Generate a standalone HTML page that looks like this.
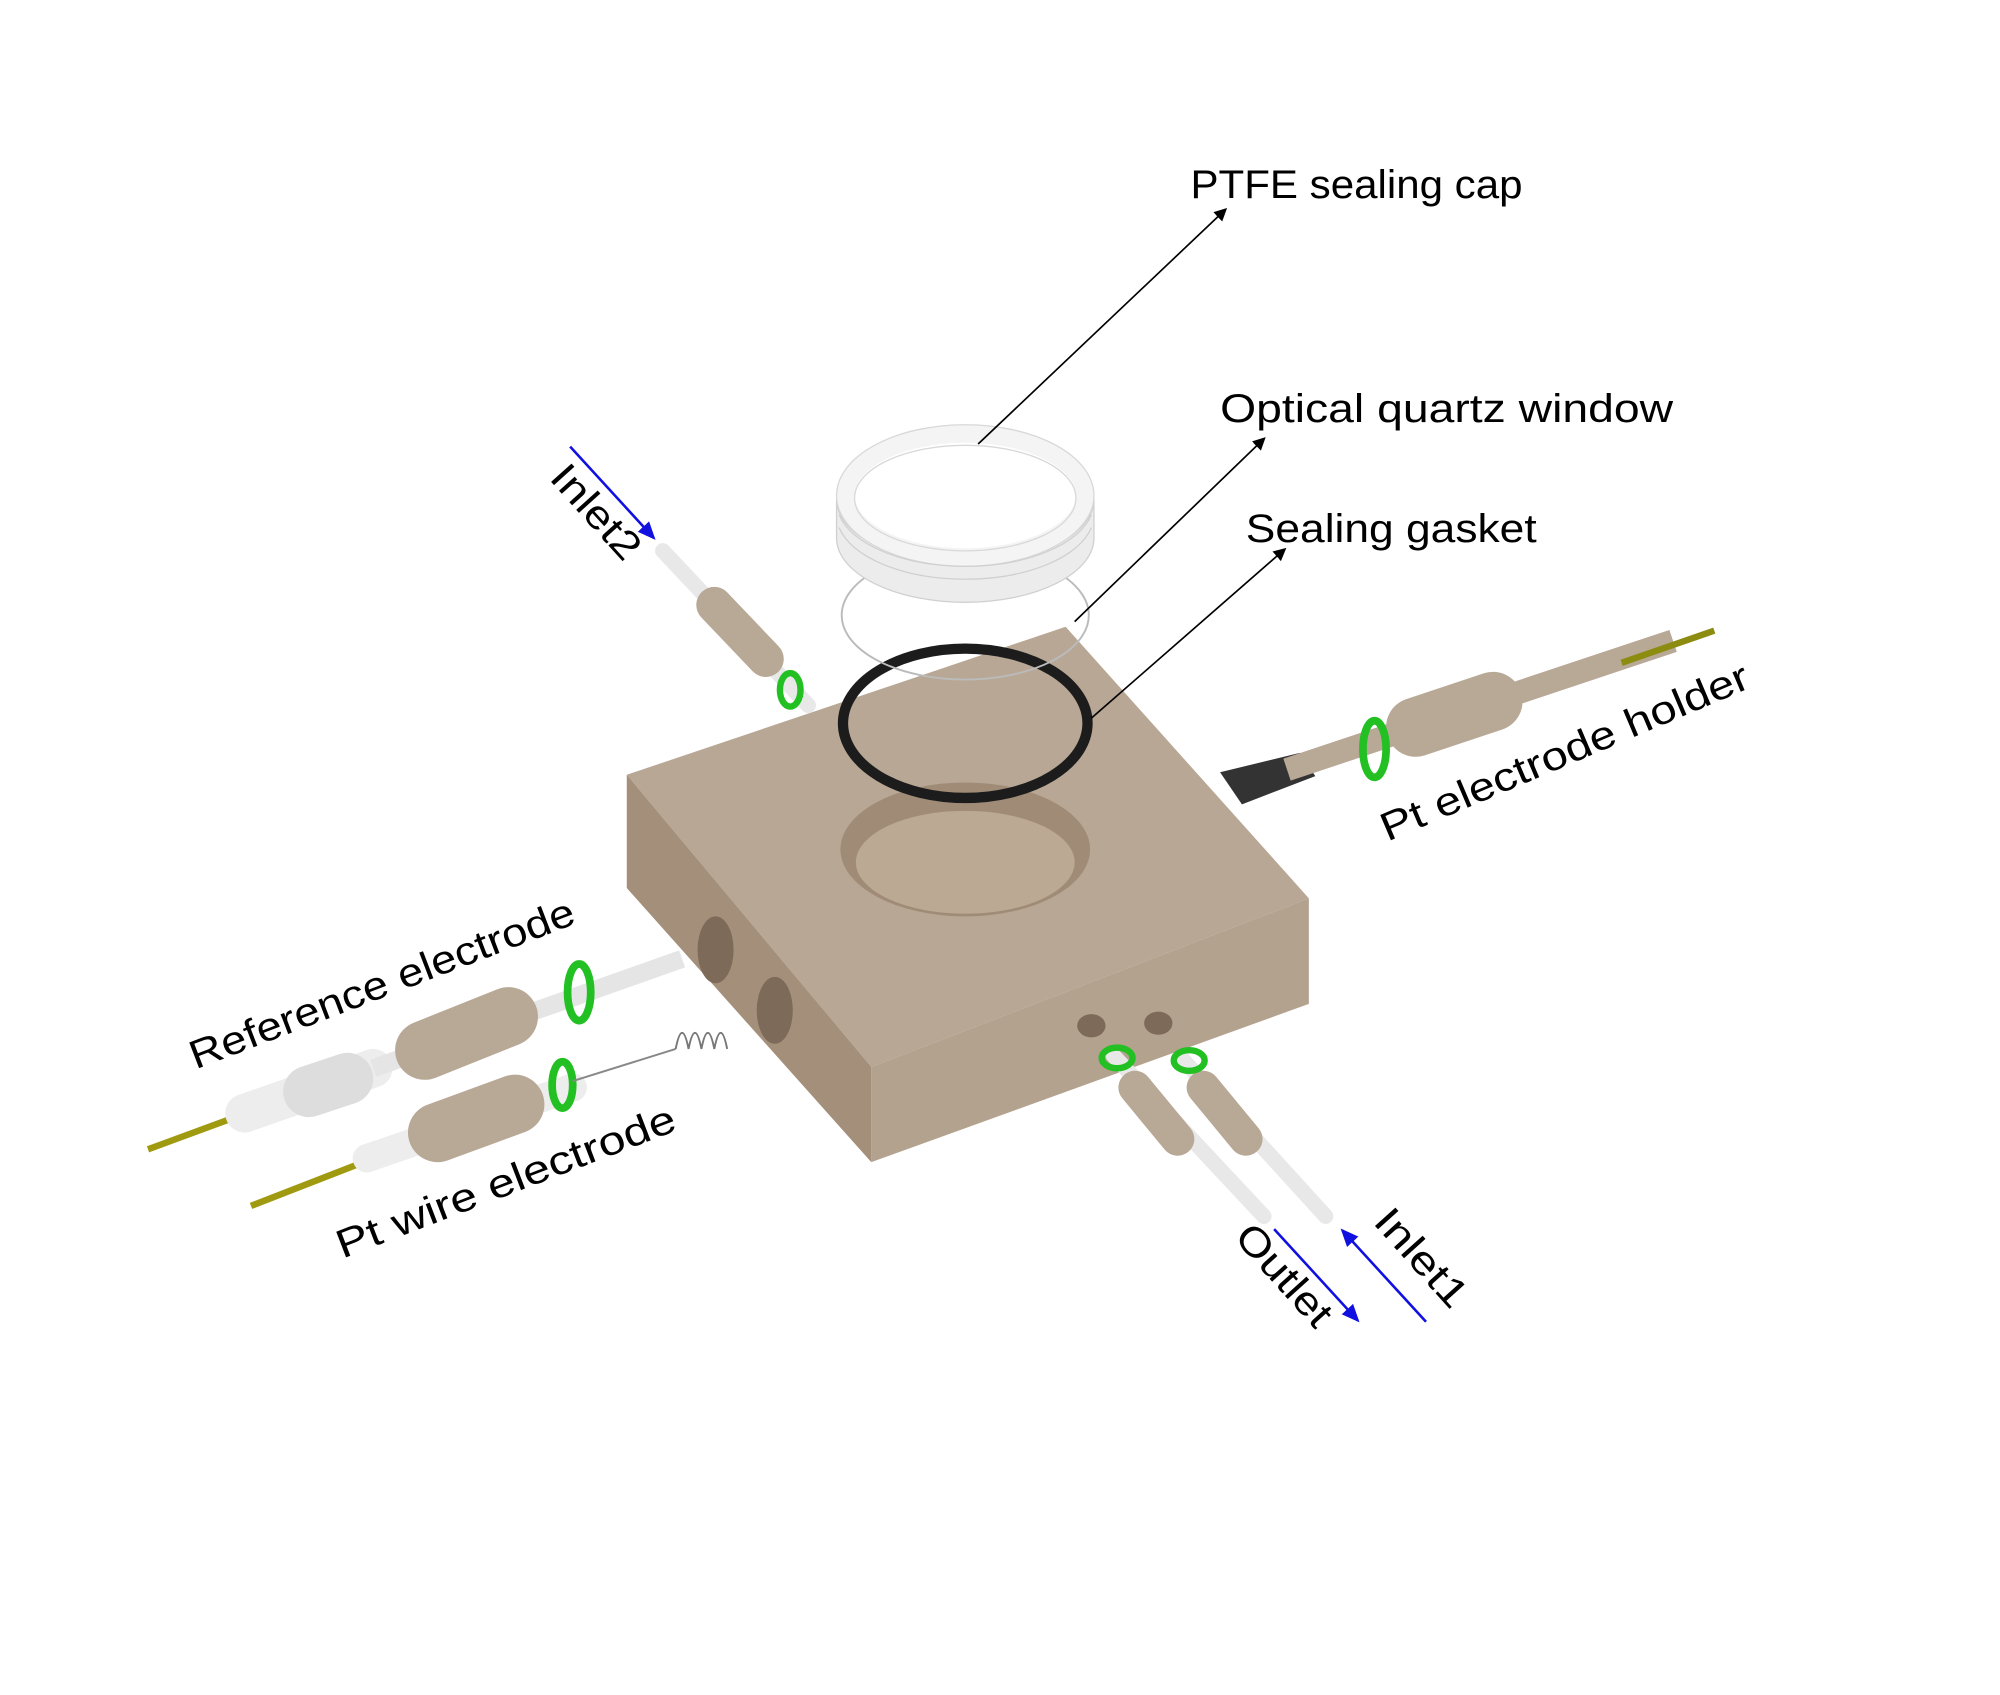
<!DOCTYPE html>
<html><head><meta charset="utf-8"><style>
html,body{margin:0;padding:0;background:#fff;}
svg{display:block;}
text{font-family:"Liberation Sans",sans-serif;fill:#000;}
</style></head><body>
<svg width="2000" height="1695" viewBox="0 0 1554 1317" preserveAspectRatio="none" xmlns="http://www.w3.org/2000/svg">
<defs>
<marker id="ab" markerWidth="10" markerHeight="10" refX="8" refY="5" orient="auto" markerUnits="userSpaceOnUse"><path d="M0,0 L10,5 L0,10 z" fill="#000"/></marker>
<marker id="abl" markerWidth="14" markerHeight="12" refX="12" refY="6" orient="auto" markerUnits="userSpaceOnUse"><path d="M0,0 L14,6 L0,12 z" fill="#1010e0"/></marker>
</defs>
<rect width="1554" height="1317" fill="#fff"/>
<!-- block -->
<polygon points="487,602 828,487 1017,698 677,829" fill="#b7a794"/>
<polygon points="487,602 677,829 677,903 487,690" fill="#a48f7b"/>
<polygon points="677,829 1017,698 1017,780 677,903" fill="#b3a28e"/>
<ellipse cx="750" cy="660" rx="97" ry="52" fill="#a08b76"/>
<ellipse cx="750" cy="670" rx="85" ry="40" fill="#bba994"/>
<!-- side holes -->
<ellipse cx="556" cy="738" rx="14" ry="26" fill="#7d6a58"/>
<ellipse cx="602" cy="785" rx="14" ry="26" fill="#7d6a58"/>
<ellipse cx="848" cy="797" rx="11" ry="9" fill="#7d6a58"/>
<ellipse cx="900" cy="795" rx="11" ry="9" fill="#7d6a58"/>
<!-- gasket -->
<ellipse cx="750" cy="562" rx="95" ry="58" fill="none" stroke="#1c1c1c" stroke-width="8"/>
<!-- quartz window -->
<ellipse cx="750" cy="478" rx="96" ry="50" fill="none" stroke="#bbb" stroke-width="1.5"/>
<!-- PTFE cap (ring) -->
<path d="M650,388 L650,418 A100,50 0 0 0 850,418 L850,388 A100,50 0 0 1 650,388 z" fill="#ececec" stroke="#d0d0d0"/>
<ellipse cx="750" cy="385" rx="93" ry="48" fill="none" stroke="#f4f4f4" stroke-width="14"/>
<ellipse cx="750" cy="385" rx="100" ry="55" fill="none" stroke="#d8d8d8" stroke-width="1"/>
<ellipse cx="750" cy="387" rx="86" ry="41" fill="none" stroke="#d8d8d8" stroke-width="1"/>
<path d="M652,400 A100,50 0 0 0 848,400 M652,410 A100,50 0 0 0 848,410" fill="none" stroke="#d0d0d0" stroke-width="1"/>
<!-- inlet2 tube -->
<line x1="515" y1="428" x2="628" y2="548" stroke="#e8e8e8" stroke-width="12" stroke-linecap="round"/>
<line x1="555" y1="470" x2="595" y2="512" stroke="#b8a896" stroke-width="28" stroke-linecap="round"/>
<ellipse cx="614" cy="536" rx="8" ry="13" fill="none" stroke="#22c022" stroke-width="5"/>
<!-- right electrode holder -->
<polygon points="948,600 1010,585 1022,603 965,625" fill="#333"/>
<line x1="1000" y1="598" x2="1300" y2="498" stroke="#b8a896" stroke-width="18"/>
<line x1="1100" y1="565" x2="1160" y2="545" stroke="#b8a896" stroke-width="46" stroke-linecap="round"/>
<line x1="1260" y1="515" x2="1332" y2="490" stroke="#8c8c10" stroke-width="5"/>
<ellipse cx="1068" cy="582" rx="9" ry="22" fill="none" stroke="#22c022" stroke-width="6"/>
<!-- reference electrode -->
<line x1="115" y1="893" x2="210" y2="858" stroke="#a09a10" stroke-width="5"/>
<line x1="190" y1="865" x2="290" y2="830" stroke="#ededed" stroke-width="30" stroke-linecap="round"/>
<line x1="240" y1="848" x2="270" y2="838" stroke="#ddd" stroke-width="40" stroke-linecap="round"/>
<line x1="290" y1="830" x2="530" y2="745" stroke="#e5e5e5" stroke-width="14"/>
<line x1="330" y1="816" x2="395" y2="790" stroke="#b8a896" stroke-width="46" stroke-linecap="round"/>
<ellipse cx="450" cy="771" rx="9" ry="22" fill="none" stroke="#22c022" stroke-width="6"/>
<!-- Pt wire electrode -->
<line x1="195" y1="937" x2="290" y2="900" stroke="#a09a10" stroke-width="5"/>
<line x1="285" y1="900" x2="445" y2="845" stroke="#ededed" stroke-width="22" stroke-linecap="round"/>
<line x1="340" y1="880" x2="400" y2="858" stroke="#b8a896" stroke-width="46" stroke-linecap="round"/>
<ellipse cx="437" cy="843" rx="8" ry="18" fill="none" stroke="#22c022" stroke-width="6"/>
<line x1="445" y1="840" x2="525" y2="815" stroke="#888" stroke-width="1.5"/>
<path d="M525,815 q5,-25 10,0 q5,-25 10,0 q5,-25 10,0 q5,-25 10,0" fill="none" stroke="#777" stroke-width="1.5"/>
<!-- outlet/inlet1 tubes -->
<line x1="865" y1="820" x2="982" y2="945" stroke="#e8e8e8" stroke-width="12" stroke-linecap="round"/>
<line x1="918" y1="822" x2="1030" y2="945" stroke="#e8e8e8" stroke-width="12" stroke-linecap="round"/>
<line x1="882" y1="845" x2="915" y2="885" stroke="#b8a896" stroke-width="26" stroke-linecap="round"/>
<line x1="935" y1="845" x2="968" y2="885" stroke="#b8a896" stroke-width="26" stroke-linecap="round"/>
<ellipse cx="868" cy="822" rx="12" ry="8" fill="none" stroke="#22c022" stroke-width="5"/>
<ellipse cx="924" cy="824" rx="12" ry="8" fill="none" stroke="#22c022" stroke-width="5"/>
<!-- leader lines -->
<line x1="760" y1="345" x2="952" y2="163" stroke="#000" stroke-width="1.3" marker-end="url(#ab)"/>
<line x1="835" y1="483" x2="982" y2="341" stroke="#000" stroke-width="1.3" marker-end="url(#ab)"/>
<line x1="848" y1="558" x2="998" y2="427" stroke="#000" stroke-width="1.3" marker-end="url(#ab)"/>
<!-- blue arrows -->
<line x1="443" y1="347" x2="508" y2="418" stroke="#1010e0" stroke-width="2" marker-end="url(#abl)"/>
<line x1="990" y1="955" x2="1055" y2="1026" stroke="#1010e0" stroke-width="2" marker-end="url(#abl)"/>
<line x1="1108" y1="1027" x2="1043" y2="956" stroke="#1010e0" stroke-width="2" marker-end="url(#abl)"/>
<!-- labels -->
<text x="925" y="154" font-size="31" textLength="258" lengthAdjust="spacingAndGlyphs">PTFE sealing cap</text>
<text x="948" y="328" font-size="31" textLength="352" lengthAdjust="spacingAndGlyphs">Optical quartz window</text>
<text x="968" y="421" font-size="31" textLength="226" lengthAdjust="spacingAndGlyphs">Sealing gasket</text>
<text font-size="31" transform="translate(1078,654) rotate(-23)" textLength="308" lengthAdjust="spacingAndGlyphs">Pt electrode holder</text>
<text font-size="31" transform="translate(152,831) rotate(-21)" textLength="318" lengthAdjust="spacingAndGlyphs">Reference electrode</text>
<text font-size="31" transform="translate(266,978) rotate(-21)" textLength="280" lengthAdjust="spacingAndGlyphs">Pt wire  electrode</text>
<text font-size="31" transform="translate(426,372) rotate(48)" textLength="88" lengthAdjust="spacingAndGlyphs">Inlet2</text>
<text font-size="31" transform="translate(958,962) rotate(48)" textLength="96" lengthAdjust="spacingAndGlyphs">Outlet</text>
<text font-size="31" transform="translate(1066,950) rotate(48)" textLength="92" lengthAdjust="spacingAndGlyphs">Inlet1</text>
</svg>
</body></html>
